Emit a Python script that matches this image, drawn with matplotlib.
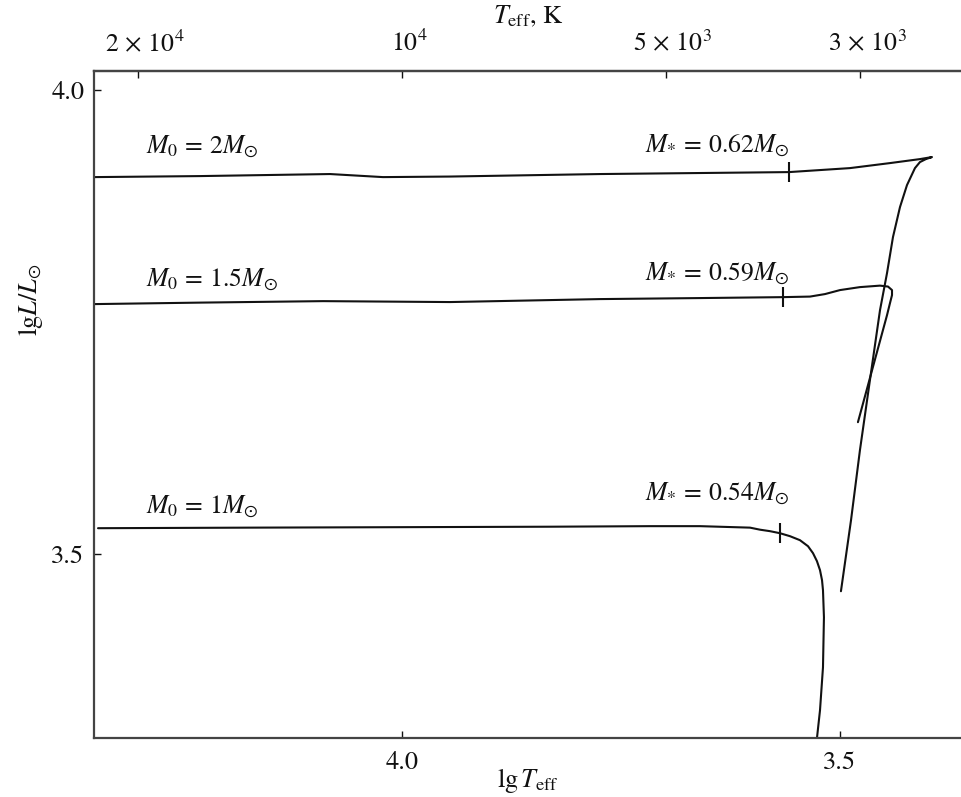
import numpy as np
import matplotlib
matplotlib.use("Agg")
import matplotlib.pyplot as plt
import matplotlib.transforms as mtransforms

plt.rcParams['font.family'] = ['STIXGeneral', 'DejaVu Serif']
plt.rcParams['mathtext.fontset'] = 'stix'

# ---- data ----
# M0 = 2 Msun track
lgT_2 = [4.3516, 4.2306, 4.0822, 4.0217, 3.9452, 3.7740, 3.6598, 3.5582, 3.4886,
         3.4429, 3.4087, 3.3950, 3.4019, 3.4087, 3.4144, 3.4235, 3.4315, 3.4395,
         3.4463, 3.4543, 3.4658, 3.4772, 3.4874, 3.4989]
lgL_2 = [3.9062, 3.9073, 3.9095, 3.9062, 3.9068, 3.9095, 3.9106, 3.9116, 3.9159,
         3.9213, 3.9256, 3.9278, 3.9256, 3.9224, 3.9159, 3.8976, 3.8739, 3.8416,
         3.8028, 3.7629, 3.6875, 3.6121, 3.5366, 3.4601]
# M0 = 1.5 Msun track
lgT_15 = [4.3516, 4.2306, 4.0902, 3.9452, 3.7740, 3.6598, 3.5651, 3.5342, 3.5171,
          3.5000, 3.4772, 3.4543, 3.4452, 3.4406, 3.4406, 3.4429, 3.4463, 3.4795]
lgL_15 = [3.7694, 3.7710, 3.7726, 3.7716, 3.7748, 3.7759, 3.7769, 3.7775, 3.7802,
          3.7845, 3.7877, 3.7893, 3.7883, 3.7845, 3.7791, 3.7705, 3.7575, 3.6422]
# M0 = 1 Msun track
lgT_1 = [4.3470, 4.1735, 4.0023, 3.8311, 3.7169, 3.6598, 3.6027, 3.5913, 3.5799,
         3.5685, 3.5571, 3.5457, 3.5365, 3.5308, 3.5263, 3.5228, 3.5205, 3.5194,
         3.5183, 3.5194, 3.5228, 3.5263, 3.5285]
lgL_1 = [3.5280, 3.5286, 3.5291, 3.5296, 3.5302, 3.5302, 3.5286, 3.5264, 3.5248,
         3.5226, 3.5194, 3.5151, 3.5086, 3.5011, 3.4925, 3.4828, 3.4720, 3.4612,
         3.4321, 3.3782, 3.3319, 3.3017, 3.2780]

# points where the remnant mass is marked
mark_lgT = [3.5582, 3.5651, 3.5685]
mark_lgL = [3.9116, 3.7769, 3.5226]

track_labels = [r"$M_0\,=\,2M_{\odot}$", r"$M_0\,=\,1.5M_{\odot}$", r"$M_0\,=\,1M_{\odot}$"]
mass_labels = [r"$M_{*}\,=\,0.62M_{\odot}$", r"$M_{*}\,=\,0.59M_{\odot}$",
               r"$M_{*}\,=\,0.54M_{\odot}$"]

T_ticks = [2e4, 1e4, 5e3, 3e3]
T_tick_labels = [r"$2\,\times\,10^4$", r"$10^4$", r"$5\,\times\,10^3$", r"$3\,\times\,10^3$"]
x_ticks = [4.0, 3.5]
y_ticks = [4.0, 3.5]

# ---- figure ----
fig = plt.figure(figsize=(9.62, 7.97), dpi=100)
ax = fig.add_axes([94/962, 59/797, 868/962, 667/797])

lc = '#111111'
for xs, ys in [(lgT_2, lgL_2), (lgT_15, lgL_15), (lgT_1, lgL_1)]:
    ax.plot(xs, ys, color=lc, lw=1.5, solid_joinstyle='round', solid_capstyle='round')
ax.plot(mark_lgT, mark_lgL, linestyle='none', marker='|', markersize=15,
        markeredgewidth=1.5, color=lc)

ax.set_xlim(4.3516, 3.3607)
ax.set_ylim(3.302, 4.0205)

# text labels
fs = 18.5
track_label_pos = [(4.2922, 3.9321), (4.2922, 3.7888), (4.2922, 3.5442)]
mass_label_pos = [(3.7226, 3.9332), (3.7226, 3.7953), (3.7226, 3.5582)]
for (x, y), t in zip(track_label_pos, track_labels):
    ax.text(x, y, t, fontsize=fs, ha='left', va='baseline', color=lc)
for (x, y), t in zip(mass_label_pos, mass_labels):
    ax.text(x, y, t, fontsize=fs, ha='left', va='baseline', color=lc)

# axes styling
spc = '#444444'
for s in ['left', 'bottom', 'top']:
    ax.spines[s].set_color(spc)
    ax.spines[s].set_linewidth(1.6)
ax.spines['right'].set_visible(False)

ax.set_xticks(x_ticks)
ax.set_xticklabels(["4.0", "3.5"])
ax.set_yticks(y_ticks)
ax.set_yticklabels(["4.0", "3.5"])
ax.tick_params(axis='x', direction='in', length=5, width=1, pad=9,
               labelsize=19, colors=lc)
ax.tick_params(axis='y', direction='in', length=5, width=1, pad=7,
               labelsize=19, colors=lc)
ax.tick_params(axis='both', which='both', right=False, top=False)

ax.set_xlabel(r"$\mathrm{lg}\,T_{\mathrm{eff}}$", fontsize=19, color=lc)
ax.xaxis.set_label_coords(0.5, -0.042)
ax.xaxis.label.set_va('top')
ax.set_ylabel(r"$\mathrm{lg}L/L_{\odot}$", fontsize=19, color=lc)
ax.yaxis.set_label_coords(-0.057, 0.657)

ax2 = ax.twiny()
ax2.set_xlim(ax.get_xlim())
ax2.set_xticks(np.log10(T_ticks))
ax2.set_xticklabels(T_tick_labels)
ax2.tick_params(axis='x', direction='in', length=5, width=1, pad=10,
                labelsize=18.5, colors=lc)
shift = mtransforms.ScaledTranslation(0.07, 0, fig.dpi_scale_trans)
for lab in ax2.get_xticklabels():
    lab.set_transform(lab.get_transform() + shift)
for s in ['left', 'bottom', 'right']:
    ax2.spines[s].set_visible(False)
ax2.spines['top'].set_color(spc)
ax2.spines['top'].set_linewidth(1.6)
ax2.set_xlabel(r"$T_{\mathrm{eff}}$, K", fontsize=19, color=lc)
ax2.xaxis.set_label_coords(0.5, 1.062)
ax2.xaxis.label.set_va('bottom')

fig.savefig("out.png", dpi=100)
